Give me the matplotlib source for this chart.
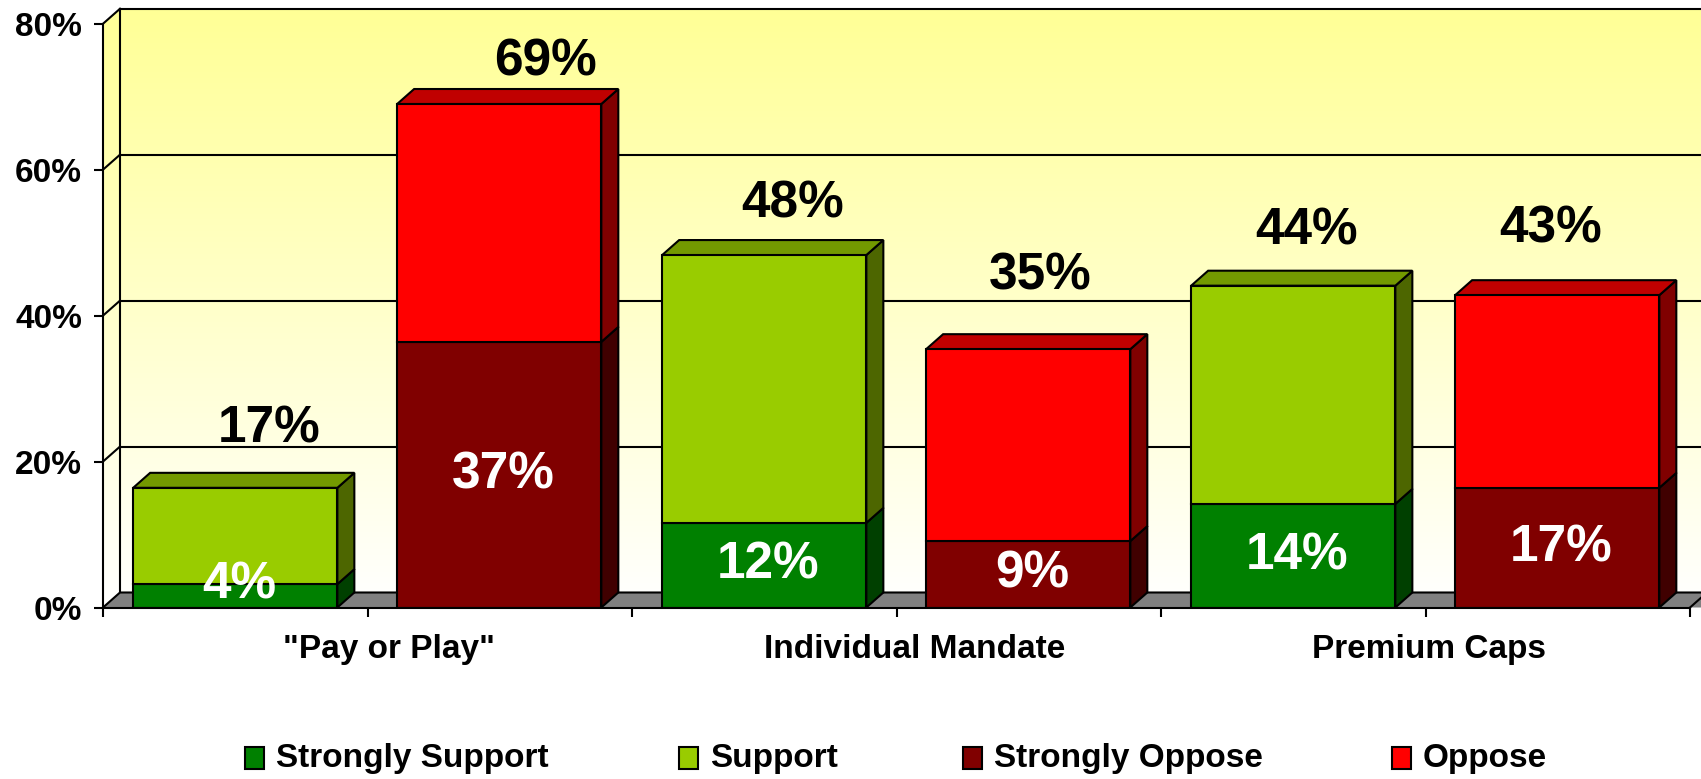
import numpy as np
import matplotlib
matplotlib.use("Agg")
import matplotlib.pyplot as plt
from matplotlib.patches import Polygon, Rectangle

plt.rcParams['font.family'] = ['Liberation Sans', 'DejaVu Sans']
plt.rcParams['font.weight'] = 'bold'

# data (percent)
categories = ['"Pay or Play"', 'Individual Mandate', 'Premium Caps']
strongly_support = [3.2, 11.6, 14.2]
support = [13.2, 36.7, 29.9]
strongly_oppose = [36.4, 9.1, 16.4]
oppose = [32.6, 26.3, 26.4]

# printed labels
support_total_pct = [17, 48, 44]
strong_support_pct = [4, 12, 14]
oppose_total_pct = [69, 35, 43]
strong_oppose_pct = [37, 9, 17]

yticks = [0, 20, 40, 60, 80]
legend_names = ["Strongly Support", "Support", "Strongly Oppose", "Oppose"]

# colours: front, top, side
c_ss = ("#008000", "#006000", "#004000")
c_s = ("#99CC00", "#739900", "#4D6600")
c_so = ("#800000", "#600000", "#400000")
c_o = ("#FF0000", "#C00000", "#800000")

W, H = 1701, 779
fig = plt.figure(figsize=(W / 100, H / 100), dpi=100)
px_per_unit = 529.0
xmax = (W - 103) / px_per_unit
ax = fig.add_axes([103 / W, 171.5 / H, (W - 103) / W, (82.5 * 7.297) / H])

dx = 17 / px_per_unit   # depth in x (data units)
dy = 15 / 7.297         # depth in y (percent)
lw = 1.5

# back + side wall with yellow gradient
n = 256
t = np.linspace(0, 1, n)
grad = np.zeros((n, 1, 3))
grad[:, 0, 0] = 1.0
grad[:, 0, 1] = 1.0
grad[:, 0, 2] = (255 - 105 * t) / 255
wall = Polygon([(0, 0), (0, 80), (dx, 80 + dy), (xmax + 0.1, 80 + dy), (xmax + 0.1, 0)],
               closed=True, transform=ax.transData)
im = ax.imshow(grad, extent=[0, xmax, 0, 80 + dy], origin='lower', aspect='auto', zorder=0)
im.set_clip_path(wall)
ax.set_xlim(0, xmax)
ax.set_ylim(0, 82.5)

# gridlines on side and back walls
for v in yticks[1:]:
    ax.plot([dx, xmax], [v + dy, v + dy], color='black', lw=lw, zorder=1, clip_on=False)
    ax.plot([0, dx], [v, v + dy], color='black', lw=lw, zorder=1, clip_on=False)
ax.plot([dx, dx], [dy, 80 + dy], color='black', lw=lw, zorder=1)

# floor
floor = Polygon([(0, 0), (dx, dy), (xmax + 0.1, dy), (xmax + 0.1, 0)],
                closed=True, facecolor='#808080', edgecolor='none', zorder=2)
ax.add_patch(floor)
ax.plot([0, dx, xmax], [0, dy, dy], color='black', lw=lw, zorder=2)
ax.plot([3.0, 3.0 + dx], [0, dy], color='black', lw=lw, zorder=2, clip_on=False)

bar_w = 0.386
offsets = [0.057, 0.556]


def draw_stack(x0, segs, colors_list):
    bottom = 0
    for k, (h, cols) in enumerate(zip(segs, colors_list)):
        ax.bar(x0, h, bar_w, bottom=bottom, align='edge', color=cols[0],
               edgecolor='black', linewidth=lw, zorder=4)
        side = Polygon([(x0 + bar_w, bottom), (x0 + bar_w + dx, bottom + dy),
                        (x0 + bar_w + dx, bottom + h + dy), (x0 + bar_w, bottom + h)],
                       closed=True, facecolor=cols[2], edgecolor='black', lw=lw, zorder=3)
        ax.add_patch(side)
        bottom += h
    top_col = colors_list[-1][1]
    top = Polygon([(x0, bottom), (x0 + dx, bottom + dy), (x0 + bar_w + dx, bottom + dy),
                   (x0 + bar_w, bottom)],
                  closed=True, facecolor=top_col, edgecolor='black', lw=lw, zorder=3)
    ax.add_patch(top)
    return bottom


# label nudges in pixels (x from front centre, y above back top edge)
top_nudge = [(34, 30), (46, 14), (28, 23), (12, 45), (13, 26), (-7, 38)]
bar_i = 0
for i in range(len(categories)):
    pairs = [
        ([strongly_support[i], support[i]], [c_ss, c_s], support_total_pct[i], strong_support_pct[i]),
        ([strongly_oppose[i], oppose[i]], [c_so, c_o], oppose_total_pct[i], strong_oppose_pct[i]),
    ]
    for j, (segs, cols, tot_lbl, in_lbl) in enumerate(pairs):
        x0 = i + offsets[j]
        total = draw_stack(x0, segs, cols)
        cx = x0 + bar_w / 2
        nx, ny = top_nudge[bar_i]
        ax.annotate(f"{tot_lbl}%", xy=(cx, total + dy), xytext=(nx, ny),
                    textcoords='offset pixels', ha='center', va='baseline',
                    fontsize=37, fontweight='bold', color='black', zorder=6)
        yc = max(segs[0] / 2, 3.1)
        ax.annotate(f"{in_lbl}%", xy=(cx, yc), xytext=(4, 0), textcoords='offset pixels',
                    ha='center', va='center', fontsize=37, fontweight='bold',
                    color='white', zorder=6)
        bar_i += 1

# axes
for s in ['top', 'right']:
    ax.spines[s].set_visible(False)
ax.spines['left'].set_bounds(0, 80)
ax.spines['bottom'].set_bounds(0, 3)
ax.spines['left'].set_linewidth(lw)
ax.spines['bottom'].set_linewidth(lw)
ax.spines['left'].set_zorder(5)
ax.spines['bottom'].set_zorder(5)
ax.set_yticks(yticks, [f"{v}%" for v in yticks])
ax.set_xticks(np.arange(0, 3.01, 0.5), [""] * 7)
ax.tick_params(axis='y', length=6.5, width=lw, pad=8.6, labelsize=24)
ax.tick_params(axis='x', length=6.5, width=lw)
for lab in ax.get_yticklabels():
    lab.set_fontweight('bold')

cat_nudge = [21, 18, 3]
for i, name in enumerate(categories):
    ax.annotate(name, xy=(i + 0.5, 0), xytext=(cat_nudge[i], -42), textcoords='offset pixels',
                ha='center', va='center', fontsize=24, fontweight='bold', annotation_clip=False)

# legend drawn by hand
legend_px = [245, 679, 963, 1392]
legend_cols = [c_ss[0], c_s[0], c_so[0], c_o[0]]
for xp, name, col in zip(legend_px, legend_names, legend_cols):
    fig.add_artist(Rectangle((xp / W, 10 / H), 19 / W, 22 / H, transform=fig.transFigure,
                             facecolor=col, edgecolor='black', lw=lw))
    fig.text((xp + 31) / W, 21 / H, name, ha='left', va='center', fontsize=24,
             fontweight='bold')

fig.savefig("out.png", dpi=100)
